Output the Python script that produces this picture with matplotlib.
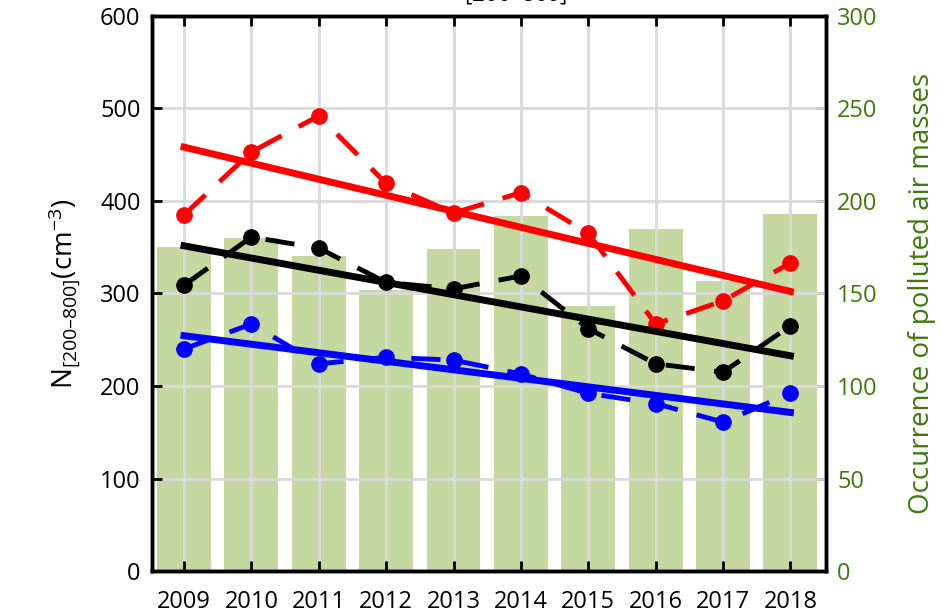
import numpy as np
import matplotlib
matplotlib.use("Agg")
import matplotlib.pyplot as plt

plt.rcParams["font.family"] = ["Open Sans", "DejaVu Sans"]
plt.rcParams["mathtext.fontset"] = "custom"
plt.rcParams["mathtext.rm"] = "Open Sans"
plt.rcParams["mathtext.it"] = "Open Sans"

years = [2009, 2010, 2011, 2012, 2013, 2014, 2015, 2016, 2017, 2018]
occurrence = [175, 180, 170, 152, 174, 192, 143, 185, 157, 193]
n_red = [385, 453, 492, 419, 387, 409, 365, 267, 292, 333]
n_black = [309, 361, 349, 312, 305, 319, 262, 224, 215, 265]
n_blue = [240, 267, 224, 231, 228, 213, 192, 181, 161, 192]

green = "#3d7a0a"
bar_color = "#c5d89f"

fig = plt.figure(figsize=(9.42, 6.14), dpi=100)
ax = fig.add_axes([0.161, 0.07, 0.716, 0.904])
ax2 = ax.twinx()

x = np.array(years)
ax2.bar(x, occurrence, width=0.8, color=bar_color, zorder=1)
ax2.set_ylim(0, 300)
ax2.set_yticks(range(0, 301, 50))

# keep the gridlines and series above the bars of the twin axis
ax.set_zorder(ax2.get_zorder() + 1)
ax.patch.set_visible(False)

ax.grid(True, color="#d9d9d9", linewidth=2, zorder=0)
ax.set_axisbelow(True)

for vals, col in [(n_red, "red"), (n_black, "black"), (n_blue, "blue")]:
    ax.plot(x, vals, color=col, linestyle=(0, (6, 4)), linewidth=3.5,
            marker="o", markersize=11, zorder=3)
    slope, icpt = np.polyfit(x, vals, 1)
    ax.plot(x, slope * x + icpt, color=col, linewidth=5, zorder=4)

ax.set_xlim(2008.52, 2018.53)
ax.set_ylim(0, 600)
ax.set_xticks(years)
ax.set_yticks(range(0, 601, 100))

for a in (ax, ax2):
    for s in a.spines.values():
        s.set_linewidth(2.5)
        s.set_color("black")

ax.tick_params(axis="both", direction="in", length=7, width=2, labelsize=17,
               top=True, pad=8)
ax.tick_params(axis="x", pad=14)
ax2.tick_params(axis="y", direction="in", length=7, width=2, labelsize=17,
                labelcolor=green, pad=8)

ax.set_ylabel(r"N$_{[200–800]}$(cm$^{-3}$)", fontsize=20, labelpad=12)
ax2.set_ylabel("Occurrence of polluted air masses", fontsize=20, color=green,
               labelpad=22)

# title clipped by the top edge, only its subscript remains visible
fig.text(0.535, 0.988, r"N$_{[200–800]}$", fontsize=23, ha="center", va="bottom")

fig.savefig("out.png", dpi=100)
